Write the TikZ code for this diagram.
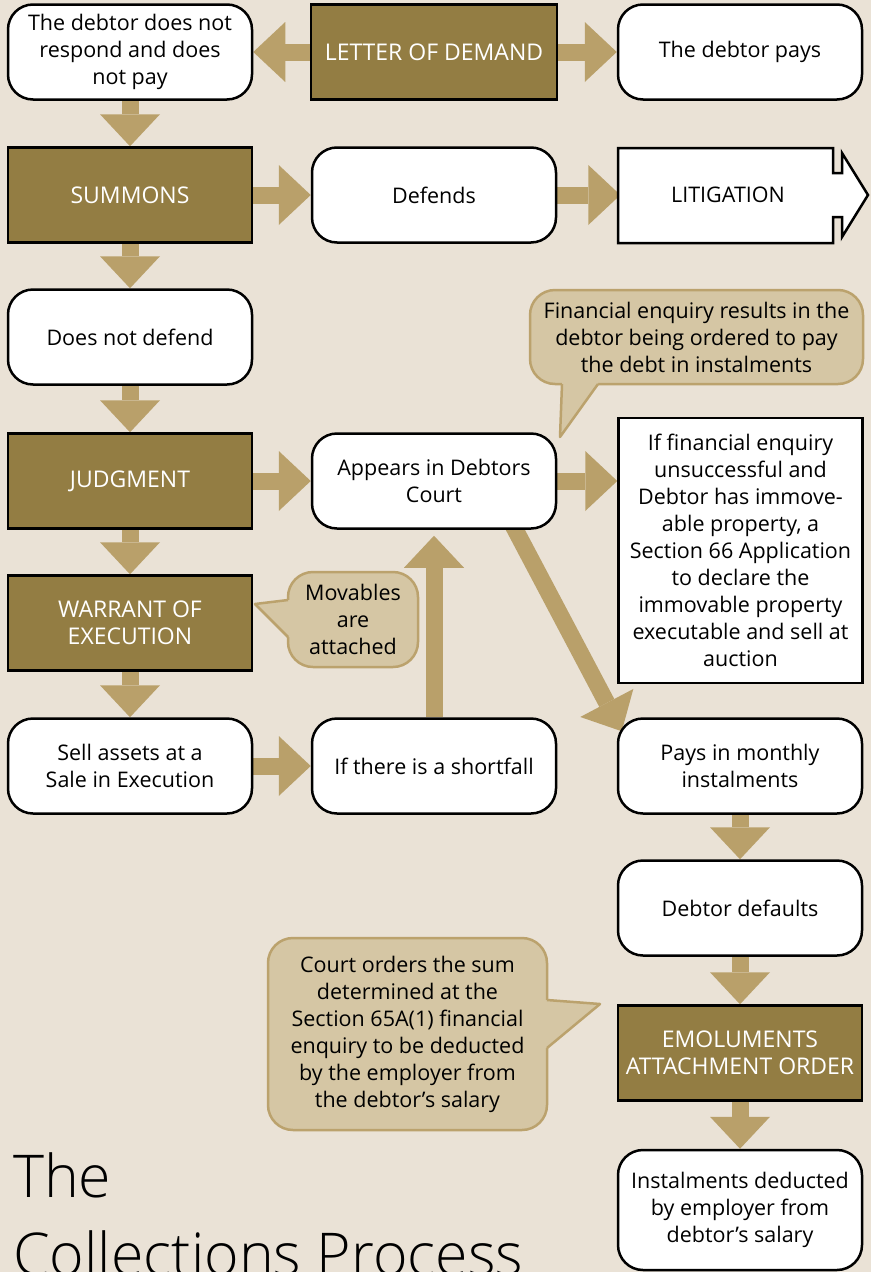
\documentclass[tikz,border=0pt]{standalone}
\usepackage{fontspec}
\setmainfont{Open Sans}
\newfontfamily\titleFont{Open Sans Light}
\usetikzlibrary{arrows.meta}

\definecolor{bgColor}{HTML}{EAE2D6}
\definecolor{boxBrown}{HTML}{937D43}
\definecolor{flowTan}{HTML}{B9A06A}
\definecolor{noteFill}{HTML}{D5C6A4}
\definecolor{noteLine}{HTML}{BBA26D}

\pgfdeclarelayer{back}
\pgfsetlayers{back,main}

\begin{document}
\begin{tikzpicture}[x = 1pt, y = -1pt, font = \fontsize{21.5}{27}\selectfont]
	\tikzstyle{plainStyle}=[draw = black, line width = 2.5pt, fill = white, rounded corners = 25pt, minimum width = 244pt, minimum height = 95pt, align = center, inner sep = 2pt, text = black]
	\tikzstyle{stepStyle}=[draw = black, line width = 2.5pt, fill = boxBrown, minimum width = 244pt, minimum height = 95pt, align = center, inner sep = 2pt, text = white, font = \fontsize{23}{27}\selectfont]
	\tikzstyle{noteStyle}=[draw = noteLine, line width = 2.5pt, fill = noteFill, rounded corners = 25pt, align = center, inner sep = 0pt, text = black]
	\tikzstyle{tailStyle}=[draw = noteLine, line width = 2.5pt, line join = round]
	\tikzstyle{flowStyle}=[draw = flowTan, line width = 17pt, -{Triangle[width = 60pt, length = 32pt, line width = 0pt]}]
	\useasboundingbox (0,0) rectangle (871,1272);
	\begin{pgfonlayer}{back}
		\fill[bgColor] (0,0) rectangle (871,1272);
	\end{pgfonlayer}
	% first row
	\node[plainStyle] (nopay) at (130,52) {The debtor does not\\respond and does\\not pay};
	\node[stepStyle, minimum width = 246pt] (demand) at (434,52) {LETTER OF DEMAND};
	\node[plainStyle] (pays) at (740,52) {The debtor pays};
	% second row
	\node[stepStyle] (summons) at (130,195) {SUMMONS};
	\node[plainStyle] (defends) at (434,195) {Defends};
	\draw[line width = 2.5pt, fill = white] (618,148) -- (833,148) -- (833,173) -- (842,173) -- (842,153) -- (868,195) -- (842,237) -- (842,217) -- (833,217) -- (833,243) -- (618,243) -- cycle;
	\node[minimum width = 215pt, minimum height = 95pt, text = black] (litig) at (728,195) {LITIGATION};
	% left column and middle
	\node[plainStyle] (nodefend) at (130,337) {Does not defend};
	\node[noteStyle, minimum width = 333pt, minimum height = 94pt] (fincall) at (696.5,337) {Financial enquiry results in the\\debtor being ordered to pay\\the debt in instalments};
	\fill[noteFill] (562,380) -- (562,384) -- (560,437) -- (598,384) -- (598,380) -- cycle;
	\draw[tailStyle] (562,384) -- (560,437) -- (598,384);
	\node[stepStyle] (judgment) at (130,481) {JUDGMENT};
	\node[plainStyle] (appears) at (434,481) {Appears in Debtors\\Court};
	\node[plainStyle, sharp corners, minimum height = 265pt] (sec66) at (740.5,550.5) {If financial enquiry\\unsuccessful and\\Debtor has immove-\\able property, a\\Section 66 Application\\to declare the\\immovable property\\executable and sell at\\auction};
	\node[stepStyle] (warrant) at (130,623) {WARRANT OF\\EXECUTION};
	\node[noteStyle, minimum width = 130pt, minimum height = 95pt] (movcall) at (353,619.5) {Movables\\are\\attached};
	\fill[noteFill] (292,600) -- (288,600) -- (255,604) -- (288,637) -- (292,637) -- cycle;
	\draw[tailStyle] (288,600) -- (255,604) -- (288,637);
	\node[plainStyle] (sell) at (130,766) {Sell assets at a\\Sale in Execution};
	\node[plainStyle] (short) at (434,766) {If there is a shortfall};
	% right column
	\node[plainStyle] (monthly) at (740,766) {Pays in monthly\\instalments};
	\node[plainStyle] (defaults) at (740,908) {Debtor defaults};
	\node[noteStyle, minimum width = 279pt, minimum height = 192pt] (courtcall) at (407.5,1034) {Court orders the sum\\determined at the\\Section 65A(1) financial\\enquiry to be deducted\\by the employer from\\the debtor’s salary};
	\fill[noteFill] (543,1000) -- (547,1000) -- (600,1004) -- (547,1048) -- (543,1048) -- cycle;
	\draw[tailStyle] (547,1000) -- (600,1004) -- (547,1048);
	\node[stepStyle] (emol) at (740,1053) {EMOLUMENTS\\ATTACHMENT ORDER};
	\node[plainStyle, minimum height = 120pt] (deduct) at (740,1210) {Instalments deducted\\by employer from\\debtor’s salary};
	% title
	\node[anchor = base west, inner sep = 0pt, font = \titleFont\fontsize{59}{78}\selectfont] (title1) at (13,1197) {The};
	\node[anchor = base west, inner sep = 0pt, font = \titleFont\fontsize{59}{78}\selectfont] (title2) at (13,1275) {Collections Process};
	% block arrows
	\begin{pgfonlayer}{back}
		\draw[flowStyle] (demand.west) -- (nopay.east);
		\draw[flowStyle] (demand.east) -- (pays.west);
		\draw[flowStyle] (nopay.south) -- (summons.north);
		\draw[flowStyle] (summons.east) -- (defends.west);
		\draw[flowStyle] (defends.east) -- (litig.west);
		\draw[flowStyle] (summons.south) -- (nodefend.north);
		\draw[flowStyle] (nodefend.south) -- (judgment.north);
		\draw[flowStyle] (judgment.east) -- (appears.west);
		\draw[flowStyle] (appears.east) -- (appears.east -| sec66.west);
		\draw[flowStyle] (judgment.south) -- (warrant.north);
		\draw[flowStyle] (warrant.south) -- (sell.north);
		\draw[flowStyle] (sell.east) -- (short.west);
		\draw[flowStyle] (short.north) -- ([yshift = -6pt]appears.south);
		\draw[flowStyle] ([xshift = 76pt, yshift = 10pt]appears.south) -- ([shift = {(5,14)}]monthly.north west);
		\draw[flowStyle] (monthly.south) -- (defaults.north);
		\draw[flowStyle] (defaults.south) -- (emol.north);
		\draw[flowStyle] (emol.south) -- (deduct.north);
	\end{pgfonlayer}
\end{tikzpicture}
\end{document}
